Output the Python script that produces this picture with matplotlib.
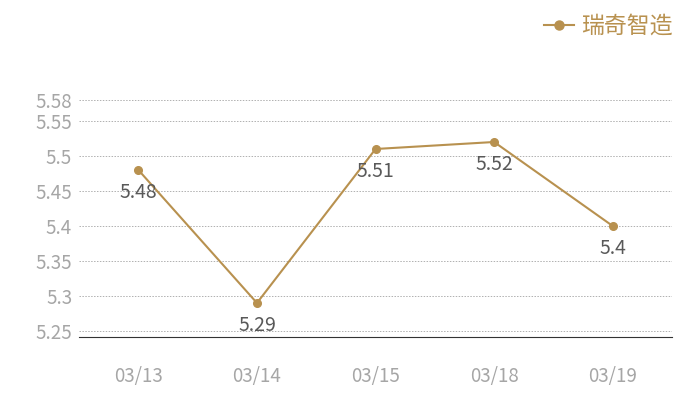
import matplotlib
matplotlib.use("Agg")
from matplotlib import pyplot as plt
from matplotlib.lines import Line2D

plt.rcParams['font.family'] = ['Noto Sans CJK SC', 'DejaVu Sans']

# dados
dates = ["03/13", "03/14", "03/15", "03/18", "03/19"]
values = [5.48, 5.29, 5.51, 5.52, 5.4]
series_name = "瑞奇智造"
y_ticks = [5.25, 5.3, 5.35, 5.4, 5.45, 5.5, 5.55, 5.58]

gold = '#b8914f'

fig = plt.figure(figsize=(7, 4), dpi=100)
ax = fig.add_axes([0.113, 0.1575, 0.847, 0.5925])

x = range(len(dates))
ax.plot(x, values, color=gold, linewidth=1.5, marker='o', markersize=5.5)

# rótulos abaixo dos pontos
for xi, v in zip(x, values):
    ax.annotate(f"{v:g}", (xi, v), xytext=(0, -16), textcoords='offset points',
                ha='center', va='center', fontsize=14, color='#595959')

ax.set_xlim(-0.5, len(dates) - 0.5)
ax.set_ylim(5.2414, 5.58)
ax.set_xticks(list(x))
ax.set_xticklabels(dates)
ax.set_yticks(y_ticks)
ax.set_yticklabels([f"{t:g}" for t in y_ticks])
ax.tick_params(axis='both', length=0, labelsize=13.5, labelcolor='#a6a6a6')
ax.tick_params(axis='x', pad=21)
ax.tick_params(axis='y', pad=5)

ax.grid(axis='y', linestyle=(0, (1.5, 1.5)), color='#b0b0b0', linewidth=0.7)
ax.set_axisbelow(True)
for s in ['top', 'right', 'left']:
    ax.spines[s].set_visible(False)
ax.spines['bottom'].set_color('#333333')

handle = Line2D([], [], color=gold, marker='o', markersize=6.5, linewidth=1.5)
fig.legend([handle], [series_name], loc='upper right', bbox_to_anchor=(0.99, 1.015),
           frameon=False, handlelength=1.3, handletextpad=0.3,
           prop={'size': 16.5}, labelcolor=gold)

fig.savefig("out.png", dpi=100)
